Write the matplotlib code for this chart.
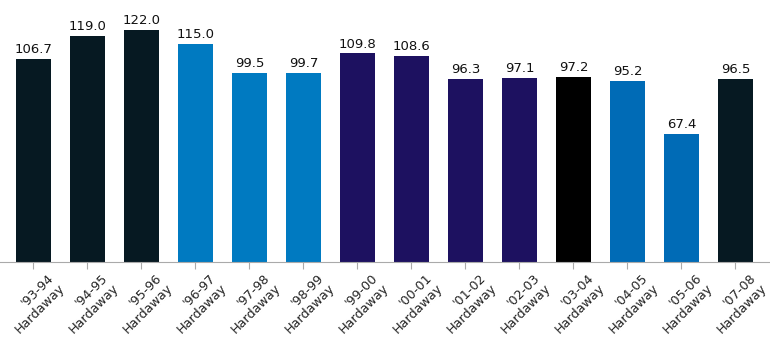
import matplotlib
matplotlib.use("Agg")
import matplotlib.pyplot as plt
from matplotlib.transforms import ScaledTranslation, blended_transform_factory

seasons = ["'93-94", "'94-95", "'95-96", "'96-97", "'97-98", "'98-99", "'99-00",
           "'00-01", "'01-02", "'02-03", "'03-04", "'04-05", "'05-06", "'07-08"]
player = "Hardaway"
values = [106.7, 119.0, 122.0, 115.0, 99.5, 99.7, 109.8, 108.6, 96.3, 97.1, 97.2, 95.2, 67.4, 96.5]
colors = ["#061922", "#061922", "#061922", "#007AC1", "#007AC1", "#007AC1", "#1D1160",
          "#1D1160", "#1D1160", "#1D1160", "#000000", "#006BB6", "#006BB6", "#061922"]

fig = plt.figure(figsize=(7.7, 3.53), dpi=100)
ax = fig.add_axes([0, 91/353, 1, 262/353])
x = list(range(len(values)))
bars = ax.bar(x, values, width=0.65, color=colors)
for xi, v in zip(x, values):
    ax.text(xi, v + 1.5, f"{v:.1f}", ha="center", va="bottom", fontsize=9.5, color="#111")
ax.set_xlim(-0.62, 13.64)
ax.set_ylim(0, 262/1.9)
ax.set_yticks([])
ax.set_xticks(x)
ax.set_xticklabels([])
trans = blended_transform_factory(ax.transData, ax.transAxes) + \
    ScaledTranslation(0.14, -0.09, fig.dpi_scale_trans)
for xi, s in zip(x, seasons):
    ax.text(xi, 0, f"{s}\n{player}", transform=trans, rotation=45, ha="right", va="top",
            rotation_mode="anchor", fontsize=9.2, color="#222", linespacing=1.15,
            clip_on=False)
for s in ["top", "right", "left"]:
    ax.spines[s].set_visible(False)
ax.spines["bottom"].set_color("#aaaaaa")
ax.tick_params(axis="x", length=5, color="#aaaaaa", pad=4)
fig.savefig("out.png", dpi=100)
